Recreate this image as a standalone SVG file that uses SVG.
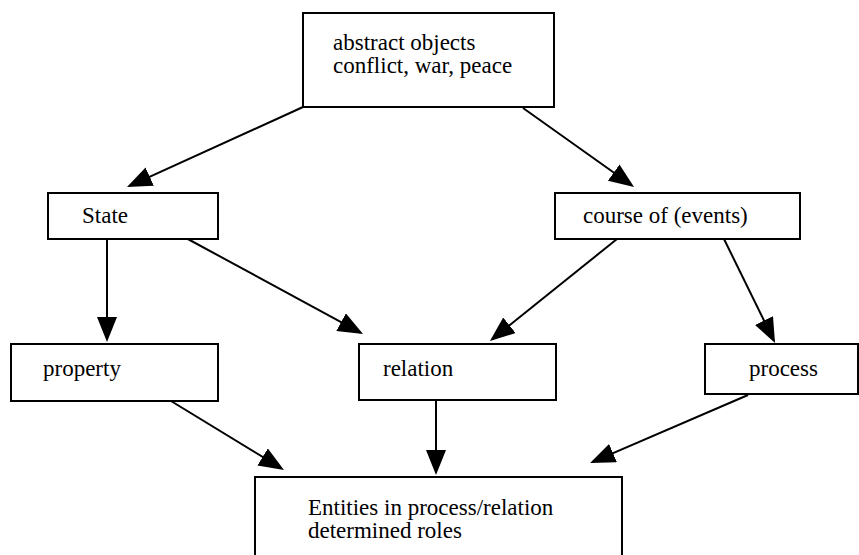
<svg xmlns="http://www.w3.org/2000/svg" width="859" height="555" viewBox="0 0 859 555">
  <defs>
    <marker id="arrow" markerUnits="userSpaceOnUse" markerWidth="26" markerHeight="22" refX="22" refY="10" orient="auto">
      <path d="M0,0 L25,10 L0,20 Z" fill="#000"/>
    </marker>
    <style>
      .box { fill: #fff; stroke: #000; stroke-width: 2; }
      .lbl { font-size: 23px; fill: #000; }
      .edge { stroke: #000; stroke-width: 2; fill: none; marker-end: url(#arrow); }
    </style>
  </defs>
  <rect width="859" height="555" fill="#fff"/>

  <g id="connectors">
    <line class="edge" x1="303" y1="107" x2="129.7" y2="185.8"/>
    <line class="edge" x1="523" y1="108" x2="631.6" y2="185.3"/>
    <line class="edge" x1="107" y1="239" x2="107" y2="339"/>
    <line class="edge" x1="186" y1="238" x2="360.4" y2="332.6"/>
    <line class="edge" x1="617" y1="239" x2="492.3" y2="339.1"/>
    <line class="edge" x1="724" y1="239" x2="773.7" y2="340.3"/>
    <line class="edge" x1="171" y1="401" x2="281.4" y2="468.4"/>
    <line class="edge" x1="436" y1="401" x2="436" y2="472"/>
    <line class="edge" x1="748" y1="395" x2="592.8" y2="461.8"/>
  </g>

  <g font-family="'Liberation Serif', 'Times New Roman', 'DejaVu Serif', serif">
    <g id="abstract-objects">
      <rect class="box" x="303" y="13" width="251" height="94"/>
      <text class="lbl" x="333" y="50">abstract objects</text>
      <text class="lbl" x="333" y="73">conflict, war, peace</text>
    </g>

    <g id="state">
      <rect class="box" x="48" y="193" width="170" height="46"/>
      <text class="lbl" x="82" y="223">State</text>
    </g>

    <g id="course-of-events">
      <rect class="box" x="555" y="193" width="245" height="46"/>
      <text class="lbl" x="583" y="223">course of (events)</text>
    </g>

    <g id="property">
      <rect class="box" x="11" y="344" width="207" height="57"/>
      <text class="lbl" x="43" y="376">property</text>
    </g>

    <g id="relation">
      <rect class="box" x="359" y="344" width="197" height="56"/>
      <text class="lbl" x="383" y="376">relation</text>
    </g>

    <g id="process">
      <rect class="box" x="705" y="344" width="153" height="50"/>
      <text class="lbl" x="749" y="376">process</text>
    </g>

    <g id="entities">
      <rect class="box" x="255" y="477" width="367" height="90"/>
      <text class="lbl" x="308" y="515">Entities in process/relation</text>
      <text class="lbl" x="308" y="538">determined roles</text>
    </g>
  </g>
</svg>
